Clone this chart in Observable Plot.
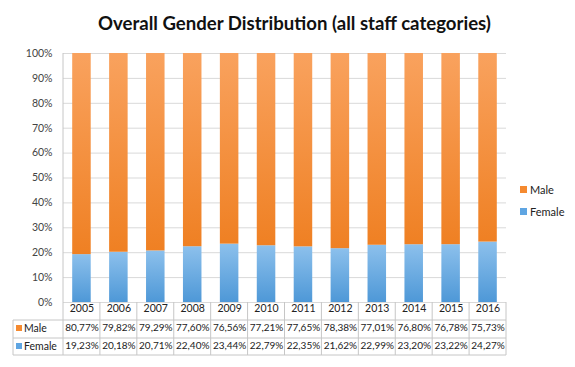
<!DOCTYPE html>
<html>
<head>
<meta charset="utf-8">
<script src="https://cdn.jsdelivr.net/npm/d3@7"></script>
<script src="https://cdn.jsdelivr.net/npm/@observablehq/plot@0.6"></script>
<style>
  html, body { margin: 0; padding: 0; background: #fff; }
  #wrap { position: relative; width: 575px; height: 367px; overflow: hidden; font-family: Lato, "DejaVu Sans", sans-serif; }
  #title { height: 40px; text-align: center; font-weight: bold; font-size: 18.6px; color: #111; padding-left: 14px; box-sizing: border-box; padding-top: 11px; line-height: 24px; white-space: nowrap; }
  .leg { position: absolute; left: 520px; font-size: 11px; color: #222; display: flex; align-items: center; }
  .leg span.k { display: inline-block; width: 7px; height: 7px; margin-right: 3px; }
</style>
</head>
<body>
<svg width="0" height="0" style="position:absolute">
  <defs>
    <linearGradient id="gMale" x1="0" y1="0" x2="0" y2="1">
      <stop offset="0" stop-color="#F9A25E"/>
      <stop offset="1" stop-color="#EF8023"/>
    </linearGradient>
    <linearGradient id="gFemale" x1="0" y1="0" x2="0" y2="1">
      <stop offset="0" stop-color="#8CC0EC"/>
      <stop offset="1" stop-color="#4E98D7"/>
    </linearGradient>
  </defs>
</svg>
<div id="wrap">
  <div id="title">Overall Gender Distribution (all staff categories)</div>
  <div id="chart"></div>
  <div class="leg" style="top:183px"><span class="k" style="background:#F58A30"></span>Male</div>
  <div class="leg" style="top:205px"><span class="k" style="background:#5FA5E2"></span>Female</div>
</div>
<script>
const years = ["2005","2006","2007","2008","2009","2010","2011","2012","2013","2014","2015","2016"];
const male = [80.77, 79.82, 79.29, 77.60, 76.56, 77.21, 77.65, 78.38, 77.01, 76.80, 76.78, 75.73];
const female = [19.23, 20.18, 20.71, 22.40, 23.44, 22.79, 22.35, 21.62, 22.99, 23.20, 23.22, 24.27];
const series = ["Female", "Male"];
const yTicks = [0, 10, 20, 30, 40, 50, 60, 70, 80, 90, 100];

const rows = [];
years.forEach((y, i) => {
  rows.push({year: y, series: "Female", value: female[i]});
  rows.push({year: y, series: "Male", value: male[i]});
});
const fmt = v => v.toFixed(2).replace(".", ",") + "%";
const tableRows = years.map((y, i) => ({year: y, m: fmt(male[i]), f: fmt(female[i])}));

const W = 575, H = 327, mL = 63, mR = 69, mT = 13, mB = 65;
const plot = Plot.plot({
  width: W, height: H,
  marginLeft: mL, marginRight: mR, marginTop: mT, marginBottom: mB,
  style: {fontFamily: "Lato, 'DejaVu Sans', sans-serif", fontSize: "10.5px", background: "#fff", color: "#222"},
  x: {domain: years, padding: 0, round: false, axis: null},
  y: {domain: [0, 100], ticks: yTicks, tickFormat: d => d + "%", label: null, tickSize: 0, tickPadding: 11, fontSize: 11},
  color: {domain: series, range: ["url(#gFemale)", "url(#gMale)"]},
  marks: [
    Plot.ruleY(yTicks, {stroke: "#d9d9d9", strokeWidth: 1}),
    Plot.barY(rows, {x: "year", y: "value", fill: "series", order: series, insetLeft: 9.2, insetRight: 9.2}),
    Plot.text(years, {x: d => d, frameAnchor: "bottom", dy: 9.5, fontSize: 10.5}),
    Plot.text(tableRows, {x: "year", text: "m", frameAnchor: "bottom", dy: 28, fontSize: 10}),
    Plot.text(tableRows, {x: "year", text: "f", frameAnchor: "bottom", dy: 46, fontSize: 10})
  ]
});
document.getElementById("chart").appendChild(plot);

const svg = d3.select(plot);
svg.selectAll("g[aria-label='y-axis tick label'] text, g[aria-label='y-axis tick label']").attr("fill", "#444");

// table grid lines drawn from the x band scale
const xs = plot.scale("x");
const yb = H - mB;
const g = svg.append("g").attr("stroke", "#c6c6c6").attr("stroke-width", 1).attr("fill", "none");
const bw = xs.bandwidth;
const x0 = xs.apply(years[0]);
const xEnd = xs.apply(years[years.length - 1]) + bw;
const tableLeft = 13;
const rowYs = [yb + 18, yb + 36, yb + 53];
g.append("line").attr("x1", x0).attr("x2", x0).attr("y1", mT).attr("y2", yb + 53);
years.forEach(y => {
  const xr = xs.apply(y) + bw;
  g.append("line").attr("x1", xr).attr("x2", xr).attr("y1", yb).attr("y2", yb + 53);
});
g.append("line").attr("x1", tableLeft).attr("x2", tableLeft).attr("y1", yb + 18).attr("y2", yb + 53);
rowYs.forEach(ry => {
  g.append("line").attr("x1", tableLeft).attr("x2", xEnd).attr("y1", ry).attr("y2", ry);
});
// row headers
const hdr = svg.append("g").attr("font-size", 10.5).attr("fill", "#222").attr("text-anchor", "start");
[["Male", "#F58A30", yb + 27], ["Female", "#5FA5E2", yb + 45]].forEach(([t, c, cy]) => {
  hdr.append("rect").attr("x", 16).attr("y", cy - 4).attr("width", 6).attr("height", 6).attr("fill", c);
  hdr.append("text").attr("x", 24).attr("y", cy).attr("dy", "0.32em").attr("text-anchor", "start").text(t);
});
</script>
</body>
</html>
